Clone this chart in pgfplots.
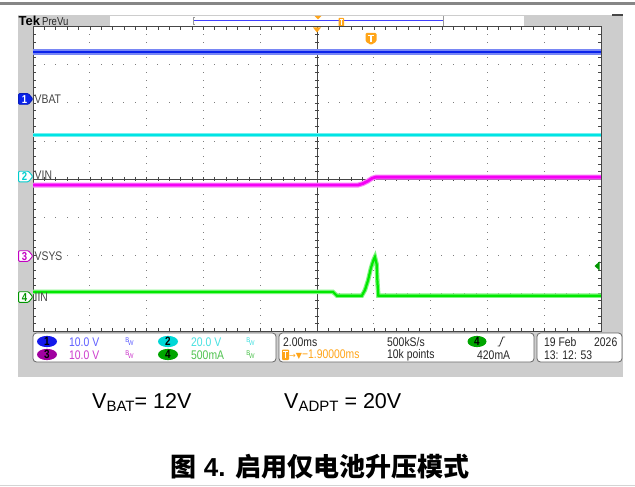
\documentclass[border=0pt]{standalone}
\usepackage{pgfplots}
\pgfplotsset{compat=1.18}
\usepackage{fontspec}
\setmainfont{Liberation Sans}
\newfontfamily\tek[FakeStretch=0.83]{Liberation Sans}
\newfontfamily\sym{DejaVu Sans}
\newfontfamily\cjk{Noto Sans CJK SC}
\definecolor{frame}{RGB}{205,205,205}
\definecolor{gridc}{RGB}{125,125,125}
\definecolor{bord}{RGB}{70,70,70}
\definecolor{c1}{RGB}{10,35,235}
\definecolor{c2}{RGB}{0,228,228}
\definecolor{c3}{RGB}{245,0,245}
\definecolor{c4}{RGB}{0,232,0}
\definecolor{t1}{RGB}{95,95,255}
\definecolor{t2}{RGB}{70,225,225}
\definecolor{t3}{RGB}{205,60,205}
\definecolor{t4}{RGB}{80,195,80}
\definecolor{e1}{RGB}{20,25,235}
\definecolor{e2}{RGB}{0,215,215}
\definecolor{e3}{RGB}{160,0,160}
\definecolor{e4}{RGB}{0,165,0}
\definecolor{torange}{RGB}{255,165,25}
\definecolor{m3}{RGB}{195,0,195}
\definecolor{m4}{RGB}{0,150,0}
\begin{document}
\begin{tikzpicture}
\begin{scope}[x=1pt,y=-1pt]
\useasboundingbox (0,0) rectangle (635,487);
\fill[white] (0,0) rectangle (635,487);
% top and bottom page lines
\fill[gray!95] (0,2.5) rectangle (635,5.5);
\fill[black!17] (0,484.5) rectangle (635,486);
% scope frame
\fill[frame] (18,15) rectangle (623,377);
\fill[bord] (612,14.5) rectangle (623,15.8);
% top bar
\fill[white] (110,16) rectangle (524,26.5);
\draw[gray!80,line width=0.8] (443.5,16) -- (443.5,26.5);
\draw[gray!80,line width=0.8] (195,17) -- (193.5,17) -- (193.5,24.5) -- (195,24.5);
\draw[blue!75,line width=1.1] (194,20.5) -- (443,20.5);
\fill[torange] (314.5,15.8) -- (321.5,15.8) -- (318,19.5) -- cycle;
\fill[torange,rounded corners=0.6] (338.5,18) rectangle (344,26.5);
\draw[white,line width=0.6] (339.8,19.8) -- (342.7,19.8) (341.25,19.8) -- (341.25,25);
\node[anchor=west,inner sep=0,font=\bfseries\fontsize{13}{13}\selectfont] at (18.5,21.3) {Tek};
\node[anchor=west,inner sep=0,font=\tek\fontsize{11.5}{11.5}\selectfont,text=black!85] at (42,21.3) {PreVu};
% screen
\fill[white] (33,27) rectangle (601,331);
% grid dots
\foreach \k in {1,2,3,4,6,7,8,9} {
  \foreach \j in {1,...,39} {
    \fill[gridc] ({33+56.8*\k-0.5},{27+7.6*\j-0.5}) rectangle +(1,1);
  }
}
\foreach \k in {1,2,3,5,6,7} {
  \foreach \j in {1,...,49} {
    \fill[gridc] ({33+11.36*\j-0.5},{27+38*\k-0.5}) rectangle +(1,1);
  }
}
% center lines
\draw[bord,line width=0.8] (33,179) -- (601,179);
\draw[bord,line width=0.8] (317,27) -- (317,331);
\foreach \j in {1,...,49} {
  \draw[bord,line width=0.6] ({33+11.36*\j},176.8) -- ({33+11.36*\j},181.2);
  \draw[bord,line width=0.6] ({33+11.36*\j},27) -- ({33+11.36*\j},30);
  \draw[bord,line width=0.6] ({33+11.36*\j},331) -- ({33+11.36*\j},328);
}
\foreach \j in {1,...,39} {
  \draw[bord,line width=0.6] (314.8,{27+7.6*\j}) -- (319.2,{27+7.6*\j});
  \draw[bord,line width=0.6] (33,{27+7.6*\j}) -- (36,{27+7.6*\j});
  \draw[bord,line width=0.6] (601,{27+7.6*\j}) -- (598,{27+7.6*\j});
}
\draw[bord,line width=1] (33,27) rectangle (601,331);
\end{scope}

\begin{axis}[at={(33pt,-331pt)}, anchor=south west, width=568pt, height=304pt,
  scale only axis, xmin=-5, xmax=5, ymin=-4, ymax=4, hide axis, clip=true]
% CH1 VBAT
\addplot[c1!55!white, line width=5.2pt, no marks] coordinates {(-5,3.34) (5,3.34)};
\addplot[c1, line width=2.8pt, no marks] coordinates {(-5,3.34) (5,3.34)};
% CH2 VIN
\addplot[c2!55!white, line width=4.8pt, no marks] coordinates {(-5,1.16) (5,1.16)};
\addplot[c2, line width=2.6pt, no marks] coordinates {(-5,1.16) (5,1.16)};
% CH3 VSYS
\addplot[c3!50!white, line width=5pt, no marks] coordinates {(-5,-0.16) (0.72,-0.16) (0.81,-0.12) (0.90,-0.05) (0.97,0.02) (1.04,0.05) (5,0.05)};
\addplot[c3, line width=2.8pt, no marks] coordinates {(-5,-0.16) (0.72,-0.16) (0.81,-0.12) (0.90,-0.05) (0.97,0.02) (1.04,0.05) (5,0.05)};
% CH4 IIN
\addplot[c4!50!white, line width=4.4pt, no marks] coordinates {(-5,-2.97) (0.28,-2.97) (0.35,-3.07) (0.79,-3.07) (0.845,-2.92) (0.90,-2.66) (0.95,-2.34) (0.995,-2.13) (1.02,-2.05) (1.05,-2.24) (1.065,-2.74) (1.08,-3.07) (5,-3.07)};
\addplot[c4, line width=2.2pt, no marks] coordinates {(-5,-2.97) (0.28,-2.97) (0.35,-3.07) (0.79,-3.07) (0.845,-2.92) (0.90,-2.66) (0.95,-2.34) (0.995,-2.13) (1.02,-2.05) (1.05,-2.24) (1.065,-2.74) (1.08,-3.07) (5,-3.07)};
\end{axis}

\begin{scope}[x=1pt,y=-1pt]
% trigger markers on screen
\fill[torange] (313,27.5) -- (321,27.5) -- (317,32.5) -- cycle;
\fill[torange,rounded corners=1.2] (365.5,33) -- (376.5,33) -- (376.5,41.5) -- (371,45) -- (365.5,41.5) -- cycle;
\draw[white,line width=1.3] (367.8,35.3) -- (374.2,35.3) (371,35.3) -- (371,42);
\fill[m4] (599.5,261.5) -- (599.5,270.5) -- (594.5,266) -- cycle;
% channel markers
\newcommand{\tag}[5]{%
  \filldraw[draw=#3,fill=#4,line width=0.9,rounded corners=1] (18.6,{#1-5.3}) -- (28.5,{#1-5.3}) -- (32.8,#1) -- (28.5,{#1+5.3}) -- (18.6,{#1+5.3}) -- cycle;
  \node[text=#5,inner sep=0,font=\tek\bfseries\fontsize{11.5}{11.5}\selectfont] at (24.5,{#1+0.3}) {#2};}
\tag{99}{1}{c1!80!black}{c1}{white}
\tag{176.5}{2}{c2!90!black}{white}{c2!90!black}
\tag{256}{3}{m3}{white}{m3}
\tag{297}{4}{m4}{white}{m4}
\begin{scope}[every node/.style={anchor=west,inner sep=0,text=black!72,font=\tek\fontsize{12.5}{12.5}\selectfont}]
\node at (34.5,99.3) {VBAT};
\node at (34.5,175.5) {VIN};
\node at (34.5,256) {VSYS};
\node at (34.5,297.5) {IIN};
\end{scope}
% bottom info boxes
\filldraw[fill=white,draw=black!60,line width=0.8,rounded corners=3.5] (33,333) rectangle (276,362);
\filldraw[fill=white,draw=black!60,line width=0.8,rounded corners=3.5] (279,333) rectangle (534,362);
\filldraw[fill=white,draw=black!60,line width=0.8,rounded corners=3.5] (537,333) rectangle (622,362);
\newcommand{\chip}[5]{%
  \fill[#4] (#1,#2) ellipse (10 and 5.6);
  \node[inner sep=0,text=black,font=\tek\bfseries\fontsize{12}{12}\selectfont] at (#1,{#2+0.3}) {#3};}
\newcommand{\bw}[3]{%
  \node[inner sep=0,text=#3,font=\tek\fontsize{7}{7}\selectfont] at ({#1+1.5},#2) {\raisebox{1.8pt}{B}\kern-1.2pt\raisebox{-1.8pt}{W}};}
\chip{47}{341.5}{1}{e1}{}
\chip{168}{341.5}{2}{e2}{}
\chip{47}{354.5}{3}{e3}{}
\chip{168}{354.5}{4}{e4}{}
\bw{128}{341.5}{t1}
\bw{249}{341.5}{t2}
\bw{128}{354.5}{t3}
\bw{249}{354.5}{t4}
\begin{scope}[every node/.style={anchor=west,inner sep=0,font=\tek\fontsize{12.5}{12.5}\selectfont}]
\node[text=t1] at (69,341.8) {10.0 V};
\node[text=t2] at (191,341.8) {20.0 V};
\node[text=t3] at (69,355) {10.0 V};
\node[text=t4] at (191,355) {500mA};
\node[text=black!85] at (283,341.8) {2.00ms};
\node[text=black!85] at (387,341.8) {500kS/s};
\node[text=black!85] at (387,355) {10k points};
\node[text=black!85] at (477,355) {420mA};
\node[text=torange] at (289,355) {{\sym\fontsize{8}{8}\selectfont →▼}{\fontsize{12.5}{12.5}\selectfont −1.90000ms}};
\node[text=black!85] at (544,341.8) {19 Feb};
\node[text=black!85] at (594,341.8) {2026};
\node[text=black!85] at (544,355) {13: 12: 53};
\end{scope}
\fill[torange,rounded corners=0.8] (282,349.5) rectangle (289,360);
\draw[white,line width=0.9] (283.3,351.6) -- (287.7,351.6) (285.5,351.6) -- (285.5,358.3);
\fill[e4] (477,341.5) ellipse (9.5 and 5.6);
\node[inner sep=0,text=black,font=\tek\bfseries\fontsize{12}{12}\selectfont] at (477,341.8) {4};
\draw[black!80,line width=0.8] (497.5,346) -- (499.5,346) -- (503,337) -- (505,337);
% captions
\node[anchor=base west,inner sep=0,font=\fontsize{21.5}{21.5}\selectfont] at (92,408) {V\raisebox{-3.2pt}{\fontsize{15}{15}\selectfont BAT}= 12V};
\node[anchor=base west,inner sep=0,font=\fontsize{21.5}{21.5}\selectfont] at (284,408) {V\raisebox{-3.2pt}{\fontsize{15}{15}\selectfont ADPT} = 20V};
\node[anchor=base,inner sep=0,font=\fontsize{26}{26}\selectfont] at (320,476) {{\cjk\bfseries 图} {\bfseries 4.} {\cjk\bfseries 启用仅电池升压模式}};
\end{scope}
\end{tikzpicture}
\end{document}
